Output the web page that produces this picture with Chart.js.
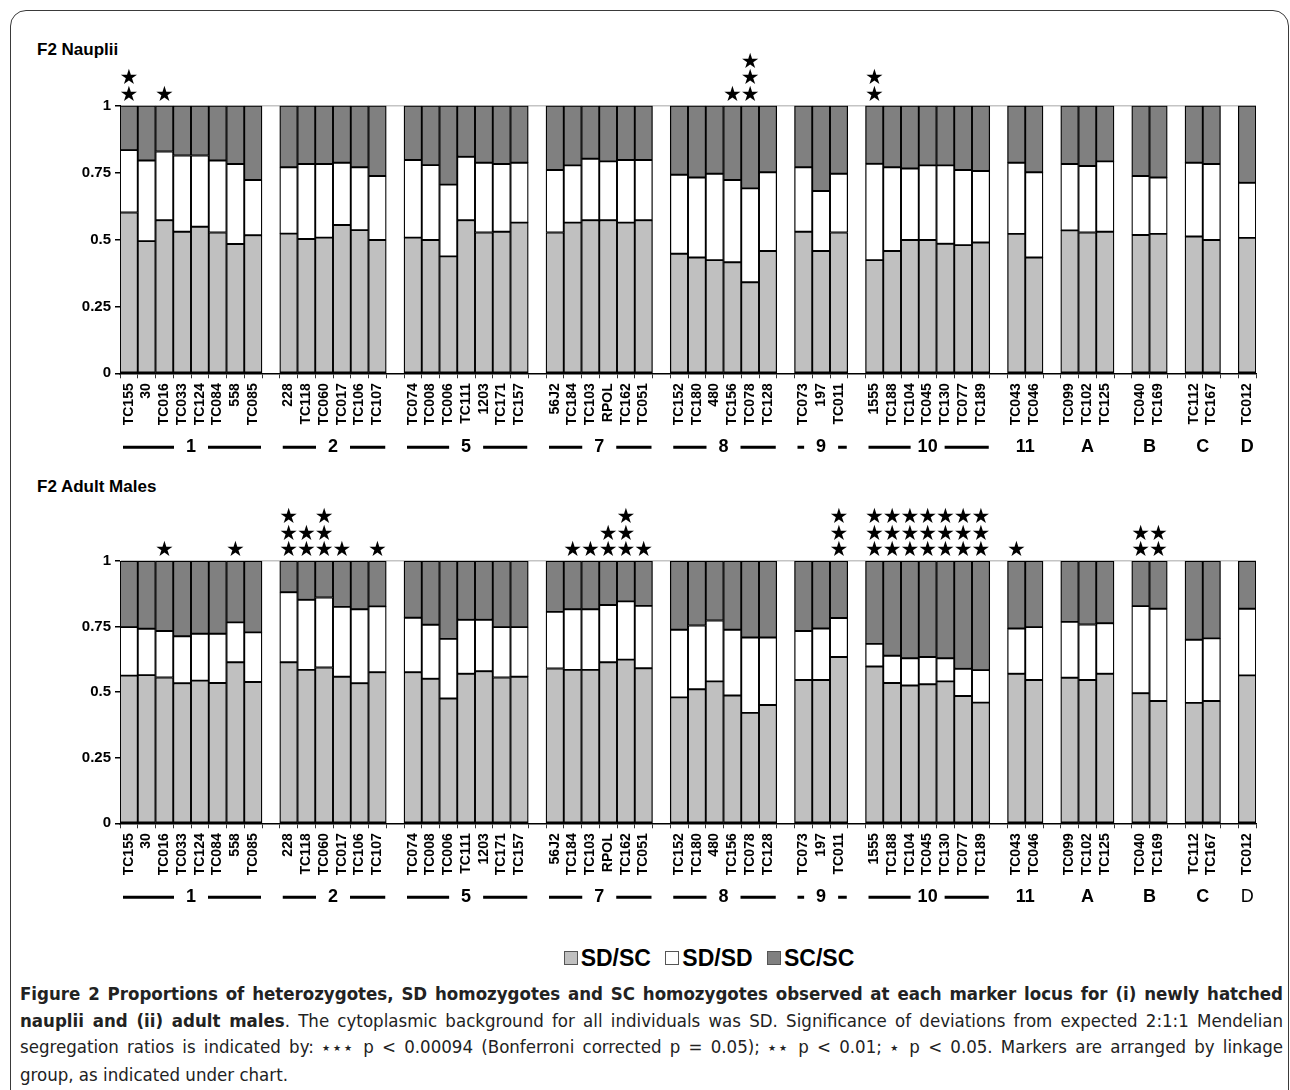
<!DOCTYPE html>
<html lang="en">
<head>
<meta charset="UTF-8">
<title>Figure 2 - F2 genotype proportions</title>
<script src="https://cdn.jsdelivr.net/npm/chart.js"></script>
<style>
  html, body { margin: 0; padding: 0; background: #fff; }
  body { width: 1290px; height: 1090px; position: relative; overflow: hidden;
         font-family: "Liberation Sans", Arial, sans-serif; }
  .frame { position: absolute; left: 10px; top: 10px; width: 1279px; height: 1110px;
           border: 1.5px solid #3a3a3a; border-radius: 16px; box-sizing: border-box; }
  .panel-title { position: absolute; left: 37px; font-weight: bold; font-size: 17px; color: #000; line-height: 20px; }
  .chart-box { position: absolute; left: 0; width: 1290px; height: 415px; }
  .legend { position: absolute; left: 0; width: 1410px; top: 945px; text-align: center;
            font-weight: bold; font-size: 23px; line-height: 26px; color: #000; }
  .legend .key { display: inline-block; width: 12px; height: 12px; border: 1.5px solid #555;
                 margin: 0 3px 0 8px; vertical-align: 1px; }
  .caption { position: absolute; left: 20px; top: 981px; width: 1263px;
             font-family: "Liberation Sans Narrow", "DejaVu Sans Condensed", sans-serif;
             font-size: 18.5px; line-height: 26.5px; color: #222; }
  .caption .line { white-space: nowrap; }
  .caption .j { text-align: justify; text-align-last: justify; }
  .caption .st { font-family: "DejaVu Sans", sans-serif; font-size: 9px; vertical-align: 2px; }
</style>
</head>
<body>
  <div class="frame"></div>

  <div class="panel-title" style="top:40px">F2 Nauplii</div>
  <div class="chart-box" style="top:45px"><canvas id="naupliiChart"></canvas></div>

  <div class="panel-title" style="top:477px">F2 Adult Males</div>
  <div class="chart-box" style="top:495px"><canvas id="adultChart"></canvas></div>

  <div class="legend" id="legend"></div>

  <div class="caption">
    <div class="line j"><b>Figure 2 Proportions of heterozygotes, SD homozygotes and SC homozygotes observed at each marker locus for (i) newly hatched</b></div>
    <div class="line j"><b>nauplii and (ii) adult males</b>. The cytoplasmic background for all individuals was SD. Significance of deviations from expected 2:1:1 Mendelian</div>
    <div class="line j">segregation ratios is indicated by: <span class="st">★★★</span> p &lt; 0.00094 (Bonferroni corrected p = 0.05); <span class="st">★★</span> p &lt; 0.01; <span class="st">★</span> p &lt; 0.05. Markers are arranged by linkage</div>
    <div class="line">group, as indicated under chart.</div>
  </div>

<script>
    // linkage groups, in chart order
    const groupNames = ['1', '2', '5', '7', '8', '9', '10', '11', 'A', 'B', 'C', 'D'];
    const groupSizes = [8, 6, 7, 6, 6, 3, 7, 2, 3, 2, 2, 1];
    const linkedGroups = ['1', '2', '5', '7', '8', '9', '10'];

    const markers = [
        'TC155', '30', 'TC016', 'TC033', 'TC124', 'TC084', '558', 'TC085',
        '228', 'TC118', 'TC060', 'TC017', 'TC106', 'TC107',
        'TC074', 'TC008', 'TC006', 'TC111', '1203', 'TC171', 'TC157',
        '56J2', 'TC184', 'TC103', 'RPOL', 'TC162', 'TC051',
        'TC152', 'TC180', '480', 'TC156', 'TC078', 'TC128',
        'TC073', '197', 'TC011',
        '1555', 'TC188', 'TC104', 'TC045', 'TC130', 'TC077', 'TC189',
        'TC043', 'TC046',
        'TC099', 'TC102', 'TC125',
        'TC040', 'TC169',
        'TC112', 'TC167',
        'TC012'
    ];

    const seriesNames = ['SD/SC', 'SD/SD', 'SC/SC'];
    const seriesColors = ['#c0c0c0', '#ffffff', '#808080'];

    // F2 nauplii
    const naupliiSDSC = [0.601, 0.494, 0.572, 0.529, 0.548, 0.526, 0.483, 0.516,
        0.522, 0.502, 0.507, 0.554, 0.535, 0.498,
        0.507, 0.498, 0.437, 0.572, 0.526, 0.529, 0.563,
        0.526, 0.563, 0.572, 0.572, 0.563, 0.572,
        0.447, 0.433, 0.423, 0.415, 0.340, 0.457,
        0.529, 0.457, 0.526,
        0.423, 0.457, 0.498, 0.498, 0.484, 0.479, 0.489,
        0.521, 0.433,
        0.534, 0.526, 0.529,
        0.517, 0.521,
        0.511, 0.498,
        0.506];
    const naupliiSDSD = [0.233, 0.301, 0.257, 0.285, 0.266, 0.269, 0.299, 0.206,
        0.248, 0.280, 0.275, 0.233, 0.235, 0.239,
        0.290, 0.280, 0.268, 0.237, 0.261, 0.253, 0.224,
        0.234, 0.214, 0.230, 0.220, 0.234, 0.225,
        0.295, 0.299, 0.323, 0.307, 0.351, 0.294,
        0.241, 0.224, 0.220,
        0.360, 0.313, 0.267, 0.279, 0.293, 0.281, 0.267,
        0.266, 0.318,
        0.248, 0.249, 0.263,
        0.220, 0.211,
        0.276, 0.284,
        0.206];
    const naupliiSCSC = [0.166, 0.205, 0.171, 0.186, 0.186, 0.205, 0.218, 0.278,
        0.230, 0.218, 0.218, 0.213, 0.230, 0.263,
        0.203, 0.222, 0.295, 0.191, 0.213, 0.218, 0.213,
        0.240, 0.223, 0.198, 0.208, 0.203, 0.203,
        0.258, 0.268, 0.254, 0.278, 0.309, 0.249,
        0.230, 0.319, 0.254,
        0.217, 0.230, 0.235, 0.223, 0.223, 0.240, 0.244,
        0.213, 0.249,
        0.218, 0.225, 0.208,
        0.263, 0.268,
        0.213, 0.218,
        0.288];
    const naupliiStars = [2, 0, 1, 0, 0, 0, 0, 0,
        0, 0, 0, 0, 0, 0,
        0, 0, 0, 0, 0, 0, 0,
        0, 0, 0, 0, 0, 0,
        0, 0, 0, 1, 3, 0,
        0, 0, 0,
        2, 0, 0, 0, 0, 0, 0,
        0, 0,
        0, 0, 0,
        0, 0,
        0, 0,
        0];

    // F2 adult males
    const adultSDSC = [0.563, 0.565, 0.556, 0.534, 0.544, 0.535, 0.614, 0.539,
        0.614, 0.585, 0.594, 0.559, 0.534, 0.576,
        0.576, 0.551, 0.476, 0.570, 0.580, 0.556, 0.559,
        0.590, 0.585, 0.585, 0.614, 0.624, 0.591,
        0.480, 0.511, 0.541, 0.487, 0.421, 0.451,
        0.546, 0.546, 0.634,
        0.598, 0.535, 0.525, 0.530, 0.541, 0.485, 0.460,
        0.570, 0.546,
        0.555, 0.546, 0.570,
        0.496, 0.466,
        0.459, 0.466,
        0.564];
    const adultSDSD = [0.185, 0.177, 0.177, 0.179, 0.179, 0.188, 0.152, 0.189,
        0.267, 0.267, 0.267, 0.266, 0.282, 0.251,
        0.208, 0.206, 0.227, 0.206, 0.196, 0.192, 0.189,
        0.216, 0.231, 0.231, 0.218, 0.222, 0.238,
        0.258, 0.243, 0.232, 0.251, 0.287, 0.257,
        0.187, 0.197, 0.149,
        0.086, 0.104, 0.104, 0.104, 0.088, 0.104, 0.124,
        0.173, 0.202,
        0.213, 0.212, 0.193,
        0.332, 0.352,
        0.241, 0.239,
        0.254];
    const adultSCSC = [0.252, 0.258, 0.267, 0.287, 0.277, 0.277, 0.234, 0.272,
        0.119, 0.148, 0.139, 0.175, 0.184, 0.173,
        0.216, 0.243, 0.297, 0.224, 0.224, 0.252, 0.252,
        0.194, 0.184, 0.184, 0.168, 0.154, 0.171,
        0.262, 0.246, 0.227, 0.262, 0.292, 0.292,
        0.267, 0.257, 0.217,
        0.316, 0.361, 0.371, 0.366, 0.371, 0.411, 0.416,
        0.257, 0.252,
        0.232, 0.242, 0.237,
        0.172, 0.182,
        0.300, 0.295,
        0.182];
    const adultStars = [0, 0, 1, 0, 0, 0, 1, 0,
        3, 2, 3, 1, 0, 1,
        0, 0, 0, 0, 0, 0, 0,
        0, 1, 1, 2, 3, 1,
        0, 0, 0, 0, 0, 0,
        0, 0, 3,
        3, 3, 3, 3, 3, 3, 3,
        1, 0,
        0, 0, 0,
        2, 2,
        0, 0,
        0];

    const yTicks = [0, 0.25, 0.5, 0.75, 1];

    // one empty category between linkage groups
    const slotLabels = [];
    const slotMarker = [];
    const groupStart = [];
    let mi = 0;
    groupSizes.forEach((n, g) => {
        if (g > 0) { slotLabels.push(''); slotMarker.push(-1); }
        groupStart.push(slotLabels.length);
        for (let i = 0; i < n; i++) {
            slotLabels.push(markers[mi]);
            slotMarker.push(mi);
            mi++;
        }
    });

    function spread(values) {
        return slotMarker.map(i => i < 0 ? null : values[i]);
    }

    const fontFamily = '"Liberation Sans", Arial, sans-serif';

    // stars above bars + linkage group labels under the axis
    const annotate = {
        id: 'annotate',
        afterDraw(chart, args, opts) {
            const x = chart.scales.x;
            const y = chart.scales.y;
            const ctx = chart.ctx;
            const slot = x.getPixelForValue(1) - x.getPixelForValue(0);
            ctx.save();

            ctx.fillStyle = '#000';
            ctx.textAlign = 'center';
            ctx.textBaseline = 'middle';
            ctx.font = '21px "DejaVu Sans"';
            const top = y.getPixelForValue(1);
            slotMarker.forEach((m, s) => {
                if (m < 0) return;
                for (let k = 0; k < opts.stars[m]; k++) {
                    ctx.fillText('★', x.getPixelForValue(s), top - 10 - k * 16.7);
                }
            });

            const rowY = chart.chartArea.bottom + 74;
            ctx.strokeStyle = '#000';
            ctx.lineWidth = 3;
            groupNames.forEach((name, g) => {
                const s0 = groupStart[g];
                const left = x.getPixelForValue(s0) - slot / 2;
                const right = x.getPixelForValue(s0 + groupSizes[g] - 1) + slot / 2;
                const cx = (left + right) / 2;
                const bold = !(opts.plainGroups || []).includes(name);
                ctx.font = (bold ? 'bold ' : '') + '18px ' + fontFamily;
                ctx.fillText(name, cx, rowY);
                if (linkedGroups.includes(name)) {
                    ctx.beginPath();
                    ctx.moveTo(left + 3, rowY);
                    ctx.lineTo(cx - 17, rowY);
                    ctx.moveTo(cx + 17, rowY);
                    ctx.lineTo(right - 1, rowY);
                    ctx.stroke();
                }
            });
            ctx.restore();
        }
    };

    function makeChart(id, sdsc, sdsd, scsc, stars, padTop, plainGroups) {
        const values = [sdsc, sdsd, scsc];
        return new Chart(document.getElementById(id), {
            type: 'bar',
            data: {
                labels: slotLabels,
                datasets: seriesNames.map((name, i) => ({
                    label: name,
                    data: spread(values[i]),
                    backgroundColor: seriesColors[i],
                    borderColor: '#000',
                    borderWidth: 1.3,
                    borderSkipped: false,
                    barPercentage: 1,
                    categoryPercentage: 1
                }))
            },
            options: {
                responsive: true,
                maintainAspectRatio: false,
                animation: false,
                layout: { padding: { top: padTop, right: 34, left: 0, bottom: 0 } },
                plugins: {
                    legend: { display: false },
                    tooltip: { enabled: false },
                    annotate: { stars: stars, plainGroups: plainGroups }
                },
                scales: {
                    x: {
                        stacked: true,
                        offset: true,
                        afterFit: s => { s.height = 86.7; },
                        grid: { display: true, drawOnChartArea: false, offset: true,
                                tickLength: 5, tickColor: '#333', lineWidth: 1 },
                        border: { display: true, color: '#000', width: 1.5 },
                        ticks: {
                            autoSkip: false, maxRotation: 90, minRotation: 90, padding: 5,
                            color: '#000', font: { family: fontFamily, size: 14, weight: 'bold' }
                        }
                    },
                    y: {
                        stacked: true,
                        min: 0,
                        max: 1,
                        afterFit: s => { s.width = 120; },
                        afterBuildTicks: s => { s.ticks = yTicks.map(v => ({ value: v })); },
                        grid: {
                            color: c => (c.tick && c.tick.value === 1) ? '#c4c4c4' : 'rgba(0,0,0,0)',
                            tickColor: '#000', tickLength: 5, lineWidth: 1.5
                        },
                        border: { display: true, color: '#000', width: 1 },
                        ticks: {
                            padding: 4, color: '#000',
                            font: { family: fontFamily, size: 15, weight: 'bold' },
                            callback: v => String(v)
                        }
                    }
                }
            },
            plugins: [annotate]
        });
    }

    function buildLegend() {
        const box = document.getElementById('legend');
        box.innerHTML = seriesNames.map((name, i) =>
            `<span class="key" style="background:${seriesColors[i]}"></span>${name}`).join(' ');
    }

    document.addEventListener('DOMContentLoaded', () => {
        makeChart('naupliiChart', naupliiSDSC, naupliiSDSD, naupliiSCSC, naupliiStars, 60.7, []);
        makeChart('adultChart', adultSDSC, adultSDSD, adultSCSC, adultStars, 66, ['D']);
        buildLegend();
    });
</script>
</body>
</html>
